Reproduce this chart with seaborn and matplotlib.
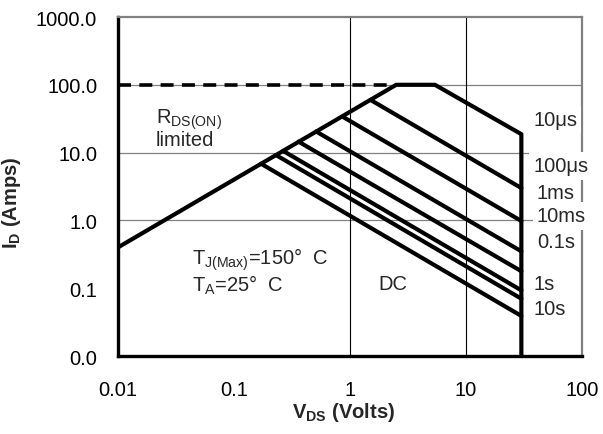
import numpy as np
import pandas as pd
import matplotlib
matplotlib.use("Agg")
import matplotlib.pyplot as plt
import seaborn as sns

# ------------------------------------------------------------------
# data (V in volts, I in amps)
# ------------------------------------------------------------------
ENV_V = [0.01, 2.5, 5.4, 30.0, 30.0]        # outer SOA boundary (10us)
ENV_I = [0.4, 100.0, 100.0, 18.7, 0.01]

PULSE_NAMES = ["100us", "1ms", "10ms", "0.1s", "1s", "10s", "DC"]
START_V = [1.5, 0.86, 0.51, 0.36, 0.265, 0.23, 0.171]
START_I = [60.0, 34.0, 20.5, 14.5, 10.6, 9.2, 6.85]
END_V = [30.0, 30.0, 30.0, 30.0, 30.0, 30.0, 30.0]
END_I = [3.0, 0.98, 0.35, 0.178, 0.093, 0.07, 0.039]

RDS_V = [0.01, 2.5]                          # dashed R_DS(on) limit
RDS_I = [100.0, 100.0]

X_TICKS = [0.01, 0.1, 1, 10, 100]
X_LABELS = ["0.01", "0.1", "1", "10", "100"]
Y_TICKS = [0.01, 0.1, 1, 10, 100, 1000]
Y_LABELS = ["0.0", "0.1", "1.0", "10.0", "100.0", "1000.0"]

# pulse labels on the right
LBL_TEXT = ["10\u03bcs", "100\u03bcs", "1ms", "10ms", "0.1s", "1s", "10s"]
LBL_V = [37.8, 37.8, 40.9, 40.9, 40.9, 37.8, 37.8]
LBL_I = [25.5, 5.3, 2.12, 0.966, 0.41, 0.098, 0.042]

FS = 14.5

# ------------------------------------------------------------------
rows = [{"curve": "10us", "V": v, "I": i} for v, i in zip(ENV_V, ENV_I)]
for name, v0, i0, v1, i1 in zip(PULSE_NAMES, START_V, START_I, END_V, END_I):
    rows.append({"curve": name, "V": v0, "I": i0})
    rows.append({"curve": name, "V": v1, "I": i1})
df = pd.DataFrame(rows)
df_rds = pd.DataFrame({"V": RDS_V, "I": RDS_I})

sns.set_style("white")
plt.rcParams["font.family"] = ["Liberation Sans", "DejaVu Sans"]
plt.rcParams["mathtext.fontset"] = "custom"
plt.rcParams["mathtext.rm"] = "Liberation Sans"
plt.rcParams["mathtext.bf"] = "Liberation Sans:bold"

fig = plt.figure(figsize=(6.03, 4.35), dpi=100)
ax = fig.add_axes([0.1957, 0.1793, 0.7695, 0.7793])
ax.set_xscale("log")
ax.set_yscale("log")
ax.set_xlim(0.01, 100)
ax.set_ylim(0.01, 1000)

# grid (only some lines are drawn in the reference)
for y in [1, 10, 100]:
    ax.axhline(y, color="#808080", lw=0.9, zorder=1)
for x in [1, 10]:
    ax.axvline(x, color="black", lw=0.8, zorder=1)

sns.lineplot(data=df, x="V", y="I", units="curve", estimator=None, sort=False,
             color="black", lw=3.0, ax=ax, zorder=3, legend=False)
sns.lineplot(data=df_rds, x="V", y="I", color="black", lw=2.6, ax=ax,
             linestyle=(0, (3.6, 2.3)), zorder=3, legend=False)

ax.set_xticks(X_TICKS)
ax.set_xticklabels(X_LABELS)
ax.set_yticks(Y_TICKS)
ax.set_yticklabels(Y_LABELS)
ax.minorticks_off()
ax.tick_params(axis="both", length=0, labelsize=FS, colors="black")
ax.tick_params(axis="x", pad=17)
ax.tick_params(axis="y", pad=15)

for side in ["left", "bottom"]:
    ax.spines[side].set_color("black")
    ax.spines[side].set_linewidth(2.4)
for side in ["top", "right"]:
    ax.spines[side].set_color("#808080")
    ax.spines[side].set_linewidth(1.6)

ax.set_xlabel(r"V$_{\mathregular{DS}}$ (Volts)", fontsize=FS, fontweight="bold")
ax.set_ylabel(r"I$_{\mathregular{D}}$ (Amps)", fontsize=FS, fontweight="bold")
ax.xaxis.set_label_coords(0.487, -0.13)
ax.yaxis.set_label_coords(-0.205, 0.454)

# annotations
ax.text(0.0213, 27.4, r"R$_{\mathregular{DS(ON)}}$", fontsize=FS, va="baseline")
ax.text(0.0213, 12.9, "limited", fontsize=FS, va="baseline")
ax.text(0.0435, 0.23, r"T$_{\mathregular{J(Max)}}$=150°  C", fontsize=FS, va="baseline")
ax.text(0.0435, 0.092, r"T$_{\mathregular{A}}$=25°  C", fontsize=FS, va="baseline")
ax.text(1.74, 0.098, "DC", fontsize=FS, va="baseline",
        bbox=dict(facecolor="white", edgecolor="none", pad=2))
for txt, xv, yi in zip(LBL_TEXT, LBL_V, LBL_I):
    ax.text(xv, yi, txt, fontsize=FS, va="baseline",
            bbox=dict(facecolor="white", edgecolor="none", pad=3))

fig.savefig("out.png", dpi=100)
